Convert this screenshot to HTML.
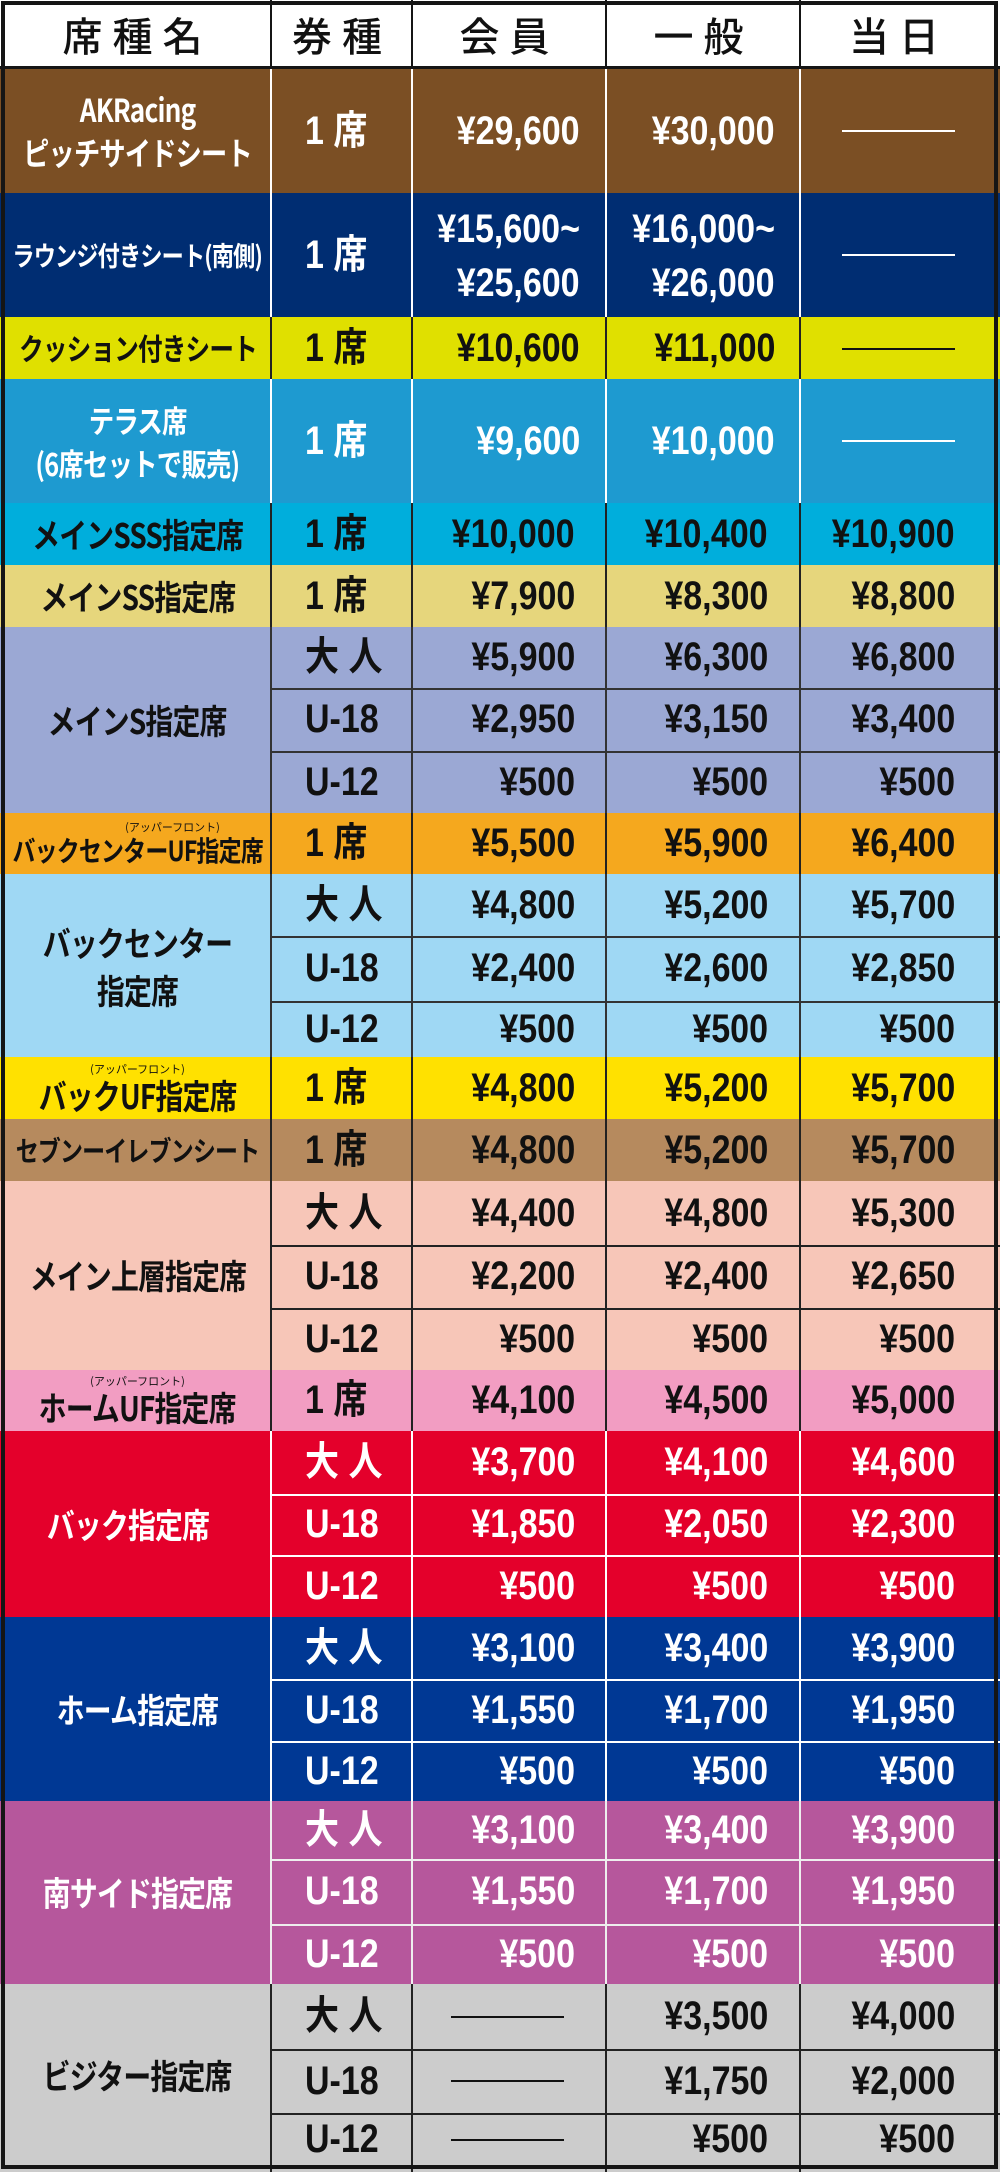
<!DOCTYPE html>
<html><head><meta charset="utf-8">
<style>
*{margin:0;padding:0;box-sizing:border-box}
body{width:1000px;height:2172px;background:#fff;position:relative;overflow:hidden;font-family:"Liberation Sans","Noto Sans CJK JP",sans-serif;font-weight:bold}
.g{position:absolute;left:0;width:1000px;overflow:hidden}
.v{position:absolute;top:0;bottom:0;width:2px;background:var(--l)}
.h{position:absolute;left:271px;right:0;height:2px;background:var(--l)}
.n{position:absolute;left:4px;width:267px;top:0;bottom:0;display:flex;flex-direction:column;align-items:center;justify-content:center;font-family:"Noto Sans CJK JP",sans-serif;font-size:34px;line-height:1.25;text-align:center;letter-spacing:-1px;white-space:nowrap}
.n span{display:inline-block;transform:scaleX(.82)}
.n span.s{transform:none}
.r{position:absolute;left:0;width:1000px;font-size:40px}
.r span{display:inline-block;transform:scaleX(.85);transform-origin:right center}
.t{position:absolute;left:305px;font-family:"Liberation Sans","Noto Sans CJK JP",sans-serif}
.r span.t{transform-origin:left center}
.a{position:absolute;right:425px}
.b{position:absolute;right:232px}
.c{position:absolute;right:45px}
.d{position:absolute;height:2px;background:currentColor}
.s{font-size:11px;font-weight:normal;line-height:1;letter-spacing:0;margin-bottom:2px}
.hd{position:absolute;top:0;height:69px;line-height:69px;text-align:center;font-family:"Noto Sans CJK JP",sans-serif;font-weight:500;font-size:40px;letter-spacing:10px;color:#111}
#ob{position:absolute;left:1px;top:1px;width:997px;height:2168px;border:4px solid #151515}
</style></head><body>

<div class="g" style="top:0;height:69px;background:#fff;--l:#151515">
<i class="v" style="left:270px"></i><i class="v" style="left:411px"></i><i class="v" style="left:605px"></i><i class="v" style="left:799px"></i>
<div class="hd" style="left:4px;width:267px">席種名</div>
<div class="hd" style="left:272px;width:140px">券種</div>
<div class="hd" style="left:413px;width:193px">会員</div>
<div class="hd" style="left:607px;width:193px">一般</div>
<div class="hd" style="left:801px;width:196px">当日</div>
<div style="position:absolute;left:0;right:0;bottom:0;height:3px;background:#151515"></div>
</div>

<div class="g" style="top:69px;height:124px;background:#7b4f24;color:#fff;--l:#fff">
<i class="v" style="left:270px"></i><i class="v" style="left:411px"></i><i class="v" style="left:605px"></i><i class="v" style="left:799px"></i>
<div class="n" style="font-size:32px;line-height:1.35"><span>AKRacing</span><span>ピッチサイドシート</span></div>
<div class="r" style="top:0;height:124px;line-height:124px"><span class="t">1 席</span><span class="a" style="right:420px">¥29,600</span><span class="b" style="right:225px">¥30,000</span><i class="d" style="left:842px;width:113px;top:61px"></i></div>
</div>

<div class="g" style="top:193px;height:124px;background:#002d72;color:#fff;--l:#fff">
<i class="v" style="left:270px"></i><i class="v" style="left:411px"></i><i class="v" style="left:605px"></i><i class="v" style="left:799px"></i>
<div class="n" style="font-size:27px"><span>ラウンジ付きシート(南側)</span></div>
<div class="r" style="top:0;height:124px;line-height:124px"><span class="t">1 席</span><i class="d" style="left:842px;width:113px;top:61px"></i></div>
<div class="r" style="top:8px;height:56px;line-height:56px"><span class="a" style="right:420px">¥15,600~</span><span class="b" style="right:225px">¥16,000~</span></div>
<div class="r" style="top:62px;height:56px;line-height:56px"><span class="a" style="right:420px">¥25,600</span><span class="b" style="right:225px">¥26,000</span></div>
</div>

<div class="g" style="top:317px;height:62px;background:#e0e000;color:#111;--l:#222">
<i class="v" style="left:270px"></i><i class="v" style="left:411px"></i><i class="v" style="left:605px"></i><i class="v" style="left:799px"></i>
<div class="n" style="font-size:30px"><span>クッション付きシート</span></div>
<div class="r" style="top:0;height:62px;line-height:62px"><span class="t">1 席</span><span class="a" style="right:420px">¥10,600</span><span class="b" style="right:225px">¥11,000</span><i class="d" style="left:842px;width:113px;top:31px"></i></div>
</div>

<div class="g" style="top:379px;height:124px;background:#1e9ad0;color:#fff;--l:#fff">
<i class="v" style="left:270px"></i><i class="v" style="left:411px"></i><i class="v" style="left:605px"></i><i class="v" style="left:799px"></i>
<div class="n" style="font-size:31px;line-height:1.4"><span>テラス席</span><span>(6席セットで販売)</span></div>
<div class="r" style="top:0;height:124px;line-height:124px"><span class="t">1 席</span><span class="a" style="right:420px">¥9,600</span><span class="b" style="right:225px">¥10,000</span><i class="d" style="left:842px;width:113px;top:61px"></i></div>
</div>

<div class="g" style="top:503px;height:62px;background:#00aedc;color:#111;--l:#222">
<i class="v" style="left:270px"></i><i class="v" style="left:411px"></i><i class="v" style="left:605px"></i><i class="v" style="left:799px"></i>
<div class="n"><span>メインSSS指定席</span></div>
<div class="r" style="top:0;height:62px;line-height:62px"><span class="t">1 席</span><span class="a">¥10,000</span><span class="b">¥10,400</span><span class="c">¥10,900</span></div>
</div>

<div class="g" style="top:565px;height:62px;background:#e6d67c;color:#111;--l:#222">
<i class="v" style="left:270px"></i><i class="v" style="left:411px"></i><i class="v" style="left:605px"></i><i class="v" style="left:799px"></i>
<div class="n"><span>メインSS指定席</span></div>
<div class="r" style="top:0;height:62px;line-height:62px"><span class="t">1 席</span><span class="a">¥7,900</span><span class="b">¥8,300</span><span class="c">¥8,800</span></div>
</div>

<div class="g" style="top:627px;height:186px;background:#9ba8d4;color:#111;--l:#333">
<i class="v" style="left:270px"></i><i class="v" style="left:411px"></i><i class="v" style="left:605px"></i><i class="v" style="left:799px"></i>
<i class="h" style="top:61px"></i><i class="h" style="top:124px"></i>
<div class="n"><span>メインS指定席</span></div>
<div class="r" style="top:0;height:61px;line-height:61px"><span class="t">大 人</span><span class="a">¥5,900</span><span class="b">¥6,300</span><span class="c">¥6,800</span></div>
<div class="r" style="top:61px;height:63px;line-height:63px"><span class="t">U-18</span><span class="a">¥2,950</span><span class="b">¥3,150</span><span class="c">¥3,400</span></div>
<div class="r" style="top:124px;height:62px;line-height:62px"><span class="t">U-12</span><span class="a">¥500</span><span class="b">¥500</span><span class="c">¥500</span></div>
</div>

<div class="g" style="top:813px;height:61px;background:#f5a81e;color:#111;--l:#222">
<i class="v" style="left:270px"></i><i class="v" style="left:411px"></i><i class="v" style="left:605px"></i><i class="v" style="left:799px"></i>
<div class="n" style="font-size:28px;line-height:1.1"><span class="s" style="margin-left:70px">(アッパーフロント)</span><span>バックセンターUF指定席</span></div>
<div class="r" style="top:0;height:61px;line-height:61px"><span class="t">1 席</span><span class="a">¥5,500</span><span class="b">¥5,900</span><span class="c">¥6,400</span></div>
</div>

<div class="g" style="top:874px;height:183px;background:#9fd8f4;color:#111;--l:#333">
<i class="v" style="left:270px"></i><i class="v" style="left:411px"></i><i class="v" style="left:605px"></i><i class="v" style="left:799px"></i>
<i class="h" style="top:62px"></i><i class="h" style="top:127px"></i>
<div class="n" style="line-height:1.4"><span>バックセンター</span><span>指定席</span></div>
<div class="r" style="top:0;height:62px;line-height:62px"><span class="t">大 人</span><span class="a">¥4,800</span><span class="b">¥5,200</span><span class="c">¥5,700</span></div>
<div class="r" style="top:62px;height:65px;line-height:65px"><span class="t">U-18</span><span class="a">¥2,400</span><span class="b">¥2,600</span><span class="c">¥2,850</span></div>
<div class="r" style="top:127px;height:56px;line-height:56px"><span class="t">U-12</span><span class="a">¥500</span><span class="b">¥500</span><span class="c">¥500</span></div>
</div>

<div class="g" style="top:1057px;height:62px;background:#ffe100;color:#111;--l:#222">
<i class="v" style="left:270px"></i><i class="v" style="left:411px"></i><i class="v" style="left:605px"></i><i class="v" style="left:799px"></i>
<div class="n" style="line-height:1.05"><span class="s">(アッパーフロント)</span><span>バックUF指定席</span></div>
<div class="r" style="top:0;height:62px;line-height:62px"><span class="t">1 席</span><span class="a">¥4,800</span><span class="b">¥5,200</span><span class="c">¥5,700</span></div>
</div>

<div class="g" style="top:1119px;height:62px;background:#b68a5e;color:#111;--l:#222">
<i class="v" style="left:270px"></i><i class="v" style="left:411px"></i><i class="v" style="left:605px"></i><i class="v" style="left:799px"></i>
<div class="n" style="font-size:28px"><span>セブンーイレブンシート</span></div>
<div class="r" style="top:0;height:62px;line-height:62px"><span class="t">1 席</span><span class="a">¥4,800</span><span class="b">¥5,200</span><span class="c">¥5,700</span></div>
</div>

<div class="g" style="top:1181px;height:189px;background:#f7c6b8;color:#111;--l:#222">
<i class="v" style="left:270px"></i><i class="v" style="left:411px"></i><i class="v" style="left:605px"></i><i class="v" style="left:799px"></i>
<i class="h" style="top:64px"></i><i class="h" style="top:127px"></i>
<div class="n"><span>メイン上層指定席</span></div>
<div class="r" style="top:0;height:64px;line-height:64px"><span class="t">大 人</span><span class="a">¥4,400</span><span class="b">¥4,800</span><span class="c">¥5,300</span></div>
<div class="r" style="top:64px;height:63px;line-height:63px"><span class="t">U-18</span><span class="a">¥2,200</span><span class="b">¥2,400</span><span class="c">¥2,650</span></div>
<div class="r" style="top:127px;height:62px;line-height:62px"><span class="t">U-12</span><span class="a">¥500</span><span class="b">¥500</span><span class="c">¥500</span></div>
</div>

<div class="g" style="top:1370px;height:61px;background:#f29dc2;color:#111;--l:#222">
<i class="v" style="left:270px"></i><i class="v" style="left:411px"></i><i class="v" style="left:605px"></i><i class="v" style="left:799px"></i>
<div class="n" style="line-height:1.05"><span class="s">(アッパーフロント)</span><span>ホームUF指定席</span></div>
<div class="r" style="top:0;height:61px;line-height:61px"><span class="t">1 席</span><span class="a">¥4,100</span><span class="b">¥4,500</span><span class="c">¥5,000</span></div>
</div>

<div class="g" style="top:1431px;height:186px;background:#e4002b;color:#fff;--l:#fff">
<i class="v" style="left:270px"></i><i class="v" style="left:411px"></i><i class="v" style="left:605px"></i><i class="v" style="left:799px"></i>
<i class="h" style="top:63px"></i><i class="h" style="top:124px"></i>
<div class="n" style="padding-right:20px"><span>バック指定席</span></div>
<div class="r" style="top:0;height:63px;line-height:63px"><span class="t">大 人</span><span class="a">¥3,700</span><span class="b">¥4,100</span><span class="c">¥4,600</span></div>
<div class="r" style="top:63px;height:61px;line-height:61px"><span class="t">U-18</span><span class="a">¥1,850</span><span class="b">¥2,050</span><span class="c">¥2,300</span></div>
<div class="r" style="top:124px;height:62px;line-height:62px"><span class="t">U-12</span><span class="a">¥500</span><span class="b">¥500</span><span class="c">¥500</span></div>
</div>

<div class="g" style="top:1617px;height:184px;background:#003894;color:#fff;--l:#fff">
<i class="v" style="left:270px"></i><i class="v" style="left:411px"></i><i class="v" style="left:605px"></i><i class="v" style="left:799px"></i>
<i class="h" style="top:62px"></i><i class="h" style="top:124px"></i>
<div class="n"><span>ホーム指定席</span></div>
<div class="r" style="top:0;height:62px;line-height:62px"><span class="t">大 人</span><span class="a">¥3,100</span><span class="b">¥3,400</span><span class="c">¥3,900</span></div>
<div class="r" style="top:62px;height:62px;line-height:62px"><span class="t">U-18</span><span class="a">¥1,550</span><span class="b">¥1,700</span><span class="c">¥1,950</span></div>
<div class="r" style="top:124px;height:60px;line-height:60px"><span class="t">U-12</span><span class="a">¥500</span><span class="b">¥500</span><span class="c">¥500</span></div>
</div>

<div class="g" style="top:1801px;height:183px;background:#b6579c;color:#fff;--l:#eee">
<i class="v" style="left:270px"></i><i class="v" style="left:411px"></i><i class="v" style="left:605px"></i><i class="v" style="left:799px"></i>
<i class="h" style="top:58px"></i><i class="h" style="top:123px"></i>
<div class="n"><span>南サイド指定席</span></div>
<div class="r" style="top:0;height:58px;line-height:58px"><span class="t">大 人</span><span class="a">¥3,100</span><span class="b">¥3,400</span><span class="c">¥3,900</span></div>
<div class="r" style="top:58px;height:65px;line-height:65px"><span class="t">U-18</span><span class="a">¥1,550</span><span class="b">¥1,700</span><span class="c">¥1,950</span></div>
<div class="r" style="top:123px;height:60px;line-height:60px"><span class="t">U-12</span><span class="a">¥500</span><span class="b">¥500</span><span class="c">¥500</span></div>
</div>

<div class="g" style="top:1984px;height:188px;background:#cccccc;color:#111;--l:#222">
<i class="v" style="left:270px"></i><i class="v" style="left:411px"></i><i class="v" style="left:605px"></i><i class="v" style="left:799px"></i>
<i class="h" style="top:65px"></i><i class="h" style="top:129px"></i>
<div class="n" style="bottom:6px"><span>ビジター指定席</span></div>
<div class="r" style="top:0;height:65px;line-height:65px"><span class="t">大 人</span><i class="d" style="left:451px;width:113px;top:32px"></i><span class="b">¥3,500</span><span class="c">¥4,000</span></div>
<div class="r" style="top:65px;height:64px;line-height:64px"><span class="t">U-18</span><i class="d" style="left:451px;width:113px;top:31px"></i><span class="b">¥1,750</span><span class="c">¥2,000</span></div>
<div class="r" style="top:129px;height:53px;line-height:53px"><span class="t">U-12</span><i class="d" style="left:451px;width:113px;top:26px"></i><span class="b">¥500</span><span class="c">¥500</span></div>
</div>

<div id="ob"></div>
</body></html>
